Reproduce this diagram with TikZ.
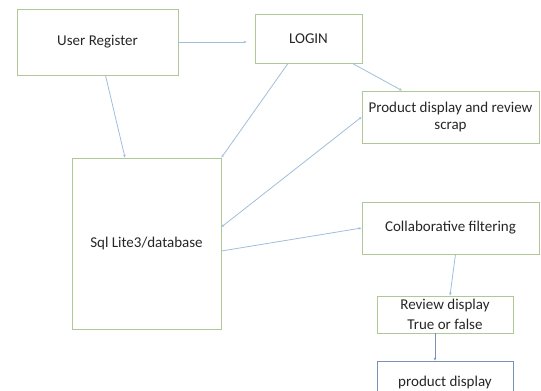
\documentclass[tikz,border=0pt]{standalone}
\usepackage{fontspec}
\setmainfont{Carlito}
\usetikzlibrary{arrows.meta}

\definecolor{boxgreen}{RGB}{176,200,150}
\definecolor{flowblue}{RGB}{160,190,220}
\definecolor{boxblue}{RGB}{120,145,180}

\tikzset{
  block/.style={draw=boxgreen, line width=0.9pt, align=center, inner sep=1pt, text=black!85, font=\fontsize{15}{17}\selectfont},
  flow/.style={draw=flowblue, line width=0.8pt, -{Stealth[length=3pt,width=2.5pt]}},
}

\begin{document}
\begin{tikzpicture}[x=1pt,y=-1pt]

% Frame of the picture
\useasboundingbox (0,0) rectangle (541,391);
\clip (0,0) rectangle (541,391);

% Boxes of the flow
\node [block, minimum width=161pt, minimum height=66pt] (reg) at (97.5,42) {User Register};
\node [block, minimum width=107pt, minimum height=49pt] (login) at (308.5,38.5) {LOGIN};
\node [block, minimum width=177pt, minimum height=52pt] (prod) at (450.5,117) {Product display and review\\scrap};
\node [block, minimum width=149pt, minimum height=171pt] (sql) at (146.5,243.5) {Sql Lite3/database};
\node [block, minimum width=177pt, minimum height=52pt] (collab) at (450.5,228) {Collaborative filtering};
\node [block, minimum width=136pt, minimum height=37pt, font=\fontsize{15}{20}\selectfont] (review) at (445,314.5) {Review display\\True or false};
\node [block, draw=boxblue, minimum width=136pt, minimum height=42pt] (pdisp) at (445,382) {product display};

% Arrows between the boxes
\draw [flow, shorten >=8pt] (reg.east) -- (reg.east -| login.west);
\draw [flow] ([xshift=8pt]reg.south) -- ([xshift=-21.5pt]sql.north);
\draw [flow] ([xshift=-20.5pt]login.south) -- (sql.north east);
\draw [flow] ([xshift=-10pt]login.south east) -- ([xshift=-48.5pt]prod.north);
\draw [flow, {Stealth[length=3pt,width=2.5pt]}-{Stealth[length=3pt,width=2.5pt]}] ([yshift=16.5pt]sql.east) -- (prod.west);
\draw [flow] ([yshift=-7.5pt]sql.east) -- (collab.west);
\draw [flow] ([xshift=5pt]collab.south) -- ([xshift=5pt]review.north);
\draw [flow, draw=boxblue] ([xshift=-10pt]review.south) -- ([xshift=-10pt]pdisp.north);

\end{tikzpicture}
\end{document}
